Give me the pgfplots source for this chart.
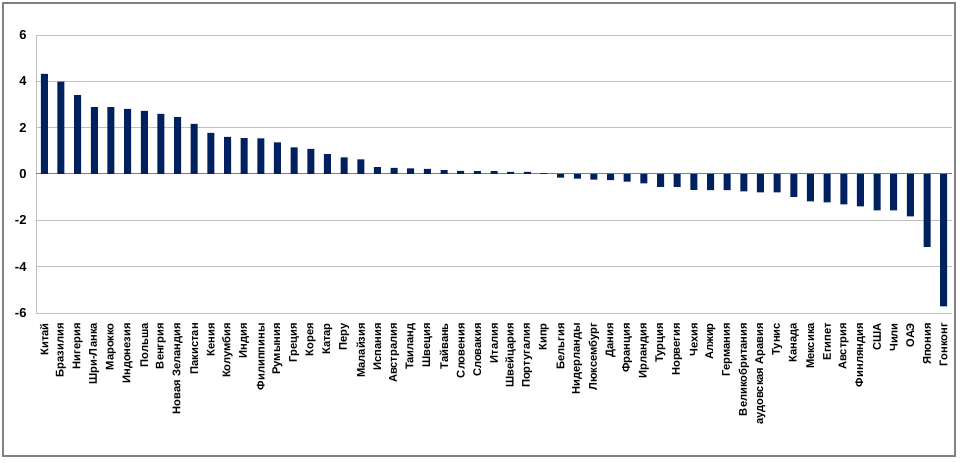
\documentclass[border=0pt]{standalone}
\usepackage{pgfplots}
\pgfplotsset{compat=1.18}
\usepackage{fontspec}
\setmainfont{Liberation Sans}
\definecolor{barblue}{RGB}{0,32,96}
\definecolor{gridgray}{RGB}{192,192,192}
\definecolor{zerogray}{RGB}{128,128,128}
\definecolor{framegray}{RGB}{128,128,128}
\begin{document}
\begin{tikzpicture}[x=1bp,y=1bp]
\useasboundingbox (0,0) rectangle (960,463);
\fill[white] (0,0) rectangle (960,463);
\draw[framegray, line width=2bp] (3,460) rectangle (955,7);
\begin{axis}[
  at={(36bp,150bp)}, anchor=south west,
  scale only axis, width=916bp, height=278bp,
  ymin=-6, ymax=6,
  xmin=-0.5, xmax=54.5,
  ytick={-6,-4,-2,2,4,6},
  extra y ticks={0},
  extra y tick style={grid style={zerogray, line width=1bp}},
  ymajorgrids,
  grid style={gridgray, line width=0.8bp},
  major tick length=0pt,
  axis x line*=bottom,
  x axis line style={draw=none},
  axis y line*=left,
  y axis line style={gridgray, line width=0.8bp},
  /pgf/number format/assume math mode=true,
  yticklabel={\bfseries\pgfmathprintnumber{\tick}},
  yticklabel style={font=\fontsize{13}{13}\selectfont\bfseries, anchor=east, xshift=-6bp},
  xtick={0,...,54},
  xticklabels={Китай,Бразилия,Нигерия,Шри-Ланка,Марокко,Индонезия,Польша,Венгрия,Новая Зеландия,Пакистан,Кения,Колумбия,Индия,Филиппины,Румыния,Греция,Корея,Катар,Перу,Малайзия,Испания,Австралия,Таиланд,Швеция,Тайвань,Словения,Словакия,Италия,Швейцария,Португалия,Кипр,Бельгия,Нидерланды,Люксембург,Дания,Франция,Ирландия,Турция,Норвегия,Чехия,Алжир,Германия,Великобритания,аудовская Аравия,Тунис,Канада,Мексика,Египет,Австрия,Финляндия,США,Чили,ОАЭ,Япония,Гонконг},
  xticklabel style={font=\fontsize{11.2}{11.2}\selectfont\bfseries, yshift=-10bp, rotate=90, anchor=east, inner sep=0pt},
  clip=false,
]
\addplot[ybar, bar width=7bp, fill=barblue, draw=none] coordinates {
(0,4.32) (1,3.99) (2,3.40) (3,2.89) (4,2.89) (5,2.81) (6,2.72) (7,2.59) (8,2.46) (9,2.16)
(10,1.77) (11,1.60) (12,1.55) (13,1.54) (14,1.37) (15,1.15) (16,1.08) (17,0.86) (18,0.72) (19,0.63)
(20,0.30) (21,0.26) (22,0.24) (23,0.22) (24,0.17) (25,0.13) (26,0.12) (27,0.12) (28,0.09) (29,0.09)
(30,0.04) (31,-0.16) (32,-0.20) (33,-0.24) (34,-0.27) (35,-0.33) (36,-0.41) (37,-0.56) (38,-0.56) (39,-0.69)
(40,-0.70) (41,-0.70) (42,-0.75) (43,-0.79) (44,-0.79) (45,-0.99) (46,-1.18) (47,-1.22) (48,-1.31) (49,-1.40)
(50,-1.57) (51,-1.57) (52,-1.83) (53,-3.15) (54,-5.71)
};
\end{axis}
\end{tikzpicture}
\end{document}
